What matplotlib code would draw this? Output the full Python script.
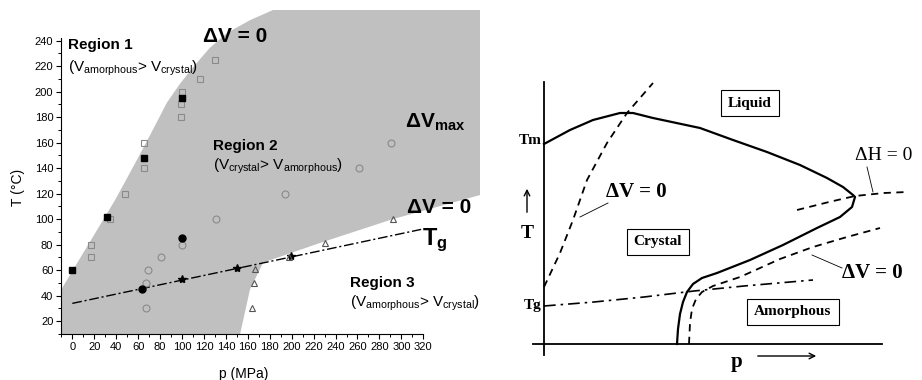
import matplotlib
matplotlib.use("Agg")
import matplotlib.pyplot as plt

plt.rcParams['font.family'] = ['Liberation Sans', 'DejaVu Sans']
plt.rcParams['mathtext.fontset'] = 'custom'
plt.rcParams['mathtext.rm'] = 'Liberation Sans'
plt.rcParams['mathtext.bf'] = 'Liberation Sans:bold'
plt.rcParams['mathtext.it'] = 'Liberation Sans:italic'

# ---- left panel data (p in MPa, T in degC) ----
# upper Delta V = 0 boundary of grey region
upper_p = [-10, 39, 58, 71, 86, 98, 110, 125, 141, 162, 183]
upper_T = [45, 115, 145, 166, 191, 206, 219, 234, 246, 256, 264]
# lower Delta V = 0 boundary of grey region (starts at the bottom-left corner)
lower_p = [-10, 153, 162, 174, 228, 292, 372]
lower_T = [10, 10, 45, 66, 82, 100, 119]

sq_open_p = [17, 17, 34, 48, 65, 65, 99, 99, 100, 116, 130]
sq_open_T = [80, 70, 100, 120, 140, 160, 180, 190, 200, 210, 225]
sq_fill_p = [0, 32, 65, 100]
sq_fill_T = [60, 102, 148, 195]
circ_open_p = [67, 67, 69, 81, 100, 131, 194, 261, 291]
circ_open_T = [30, 50, 60, 70, 80, 100, 120, 140, 160]
circ_fill_p = [64, 100]
circ_fill_T = [45, 85]
star_p = [100, 150, 199]
star_T = [53, 62, 71]
tri_p = [164, 166, 167, 198, 230, 292]
tri_T = [30, 50, 61, 70, 81, 100]
tg_p = [0, 318]
tg_T = [34, 92]

# ---- right panel schematic (arbitrary units, origin at axes corner) ----
tm_x = [0, 26, 49, 76, 89, 109, 156, 189, 223, 256, 283, 299, 309, 311,
        308, 296, 273, 239, 206, 173, 158, 149, 143, 139, 136, 134, 133]
tm_y = [200, 214, 224, 231, 231, 226, 216, 204, 192, 179, 166, 157, 149, 147,
        137, 127, 116, 99, 84, 71, 66, 60, 52, 42, 30, 15, 0]
dv1_x = [0, 16, 29, 43, 63, 83, 109]
dv1_y = [57, 91, 124, 164, 201, 231, 261]
dv2_x = [145, 146, 148, 152, 158, 169, 196, 236, 269, 303, 336]
dv2_y = [0, 21, 35, 45, 52, 58, 67, 85, 97, 107, 116]
dh_x = [253, 285, 311, 340, 363]
dh_y = [134, 142, 148, 151, 152]
tg2_x = [0, 50, 100, 150, 200, 269]
tg2_y = [38, 42, 47, 53, 58, 64]
vaxis_x = [0, 0]
vaxis_y = [-11, 262]
haxis_x = [-11, 338]
haxis_y = [0, 0]

fig = plt.figure(figsize=(9.22, 3.8), dpi=100)

# ================= left panel =================
ax = fig.add_axes([61/922, 46/380, 419/922, 324/380])
ax.set_xlim(-10.3, 371.7)
ax.set_ylim(10, 264)

ax.fill(upper_p + [372] + lower_p[::-1],
        upper_T + [264] + lower_T[::-1],
        color='#c0c0c0', lw=0, zorder=0)

ax.plot(tg_p, tg_T, color='black', lw=1, dashes=(7, 2, 1.5, 2), zorder=2)

ax.plot(sq_open_p, sq_open_T, 's', ms=4.3, mfc='none', mec='#8a8a8a', mew=0.8, zorder=3)
ax.plot(sq_fill_p, sq_fill_T, 's', ms=5, mfc='black', mec='black', zorder=3)
ax.plot(circ_open_p, circ_open_T, 'o', ms=5, mfc='none', mec='#8a8a8a', mew=0.8, zorder=3)
ax.plot(circ_fill_p, circ_fill_T, 'o', ms=5, mfc='black', mec='black', zorder=3)
ax.plot(star_p, star_T, '*', ms=6, color='black', zorder=3)
ax.plot(tri_p, tri_T, '^', ms=5, mfc='none', mec='#555555', mew=0.8, zorder=3)

for s in ['top', 'right']:
    ax.spines[s].set_visible(False)
ax.spines['left'].set_bounds(10, 242)
ax.spines['bottom'].set_bounds(-10, 320)
ax.set_xticks(range(0, 321, 20))
ax.set_yticks(range(20, 241, 20))
ax.set_xticks([x for x in range(-10, 321, 10) if x % 20 != 0], minor=True)
ax.set_yticks([y for y in range(10, 241, 10) if y % 20 != 0], minor=True)
ax.tick_params(which='major', direction='out', length=3.5, width=0.8, labelsize=8, pad=2)
ax.tick_params(which='minor', direction='out', length=2, width=0.7)
ax.patch.set_alpha(0)

ax.text(-3.9, 233.6, 'Region 1', fontsize=11, fontweight='bold')
ax.text(-3.9, 215.5, r'(V$_{\mathrm{amorphous}}$> V$_{\mathrm{crystal}}$)', fontsize=11)
ax.text(128.4, 154.5, 'Region 2', fontsize=11, fontweight='bold')
ax.text(128.4, 138.8, r'(V$_{\mathrm{crystal}}$> V$_{\mathrm{amorphous}}$)', fontsize=11)
ax.text(253, 47, 'Region 3', fontsize=11, fontweight='bold')
ax.text(253, 31.5, r'(V$_{\mathrm{amorphous}}$> V$_{\mathrm{crystal}}$)', fontsize=11)
ax.text(119, 239, 'ΔV = 0', fontsize=15, fontweight='bold')
ax.text(303, 172, r'ΔV$_{\mathbf{max}}$', fontsize=15, fontweight='bold')
ax.text(305, 105, 'ΔV = 0', fontsize=15, fontweight='bold')
ax.text(319, 80, r'T$_{\mathbf{g}}$', fontsize=17, fontweight='bold')

fig.text(18/922, 1 - 187/380, 'T (°C)', rotation=90, fontsize=10, ha='center', va='center')
fig.text(244/922, 1 - 374/380, 'p (MPa)', fontsize=10, ha='center', va='center')

# ================= right panel =================
ax2 = fig.add_axes([520/922, 0, 402/922, 320/380])
ax2.set_xlim(-24, 378)
ax2.set_ylim(-36, 284)
ax2.axis('off')

ax2.plot(vaxis_x, vaxis_y, color='black', lw=1.3)
ax2.plot(haxis_x, haxis_y, color='black', lw=1.3)
ax2.plot(tm_x, tm_y, color='black', lw=1.6)
ax2.plot(dv1_x, dv1_y, color='black', lw=1.3, dashes=(4, 3))
ax2.plot(dv2_x, dv2_y, color='black', lw=1.3, dashes=(4, 3))
ax2.plot(dh_x, dh_y, color='black', lw=1.3, dashes=(4, 3))
ax2.plot(tg2_x, tg2_y, color='black', lw=1.2, dashes=(7, 3, 1.5, 3))

serif = ['Liberation Serif', 'DejaVu Serif']
ax2.text(-2, 204, 'Tm', family=serif, fontsize=11, fontweight='bold', ha='right', va='center')
ax2.text(-3, 38, 'Tg', family=serif, fontsize=11, fontweight='bold', ha='right', va='center')
ax2.text(-17, 111, 'T', family=serif, fontsize=14, fontweight='bold', ha='center', va='center')
ax2.annotate('', xy=(-17, 158), xytext=(-17, 129),
             arrowprops=dict(arrowstyle='->', lw=1, color='black'))
ax2.text(193, -18, 'p', family=serif, fontsize=15, fontweight='bold', ha='center', va='center')
ax2.annotate('', xy=(275, -12), xytext=(211, -12),
             arrowprops=dict(arrowstyle='->', lw=1, color='black'))

box = dict(boxstyle='square,pad=0.45', fc='white', ec='black', lw=0.8)
ax2.text(206, 241, 'Liquid', family=serif, fontsize=11, fontweight='bold', ha='center', va='center', bbox=box)
ax2.text(114, 102, 'Crystal', family=serif, fontsize=11, fontweight='bold', ha='center', va='center', bbox=box)
ax2.text(249, 32, 'Amorphous', family=serif, fontsize=11, fontweight='bold', ha='center', va='center', bbox=box)

ax2.text(92, 152, 'ΔV = 0', family=serif, fontsize=15, fontweight='bold', ha='center', va='center')
ax2.plot([64, 36], [141, 127], color='black', lw=0.6)
ax2.text(340, 188, 'ΔH = 0', family=serif, fontsize=14, ha='center', va='center')
ax2.plot([323, 329], [177, 152], color='black', lw=0.6)
ax2.text(328, 71, 'ΔV = 0', family=serif, fontsize=15, fontweight='bold', ha='center', va='center')
ax2.plot([298, 268], [76, 89], color='black', lw=0.6)

fig.savefig('out.png', dpi=100)
